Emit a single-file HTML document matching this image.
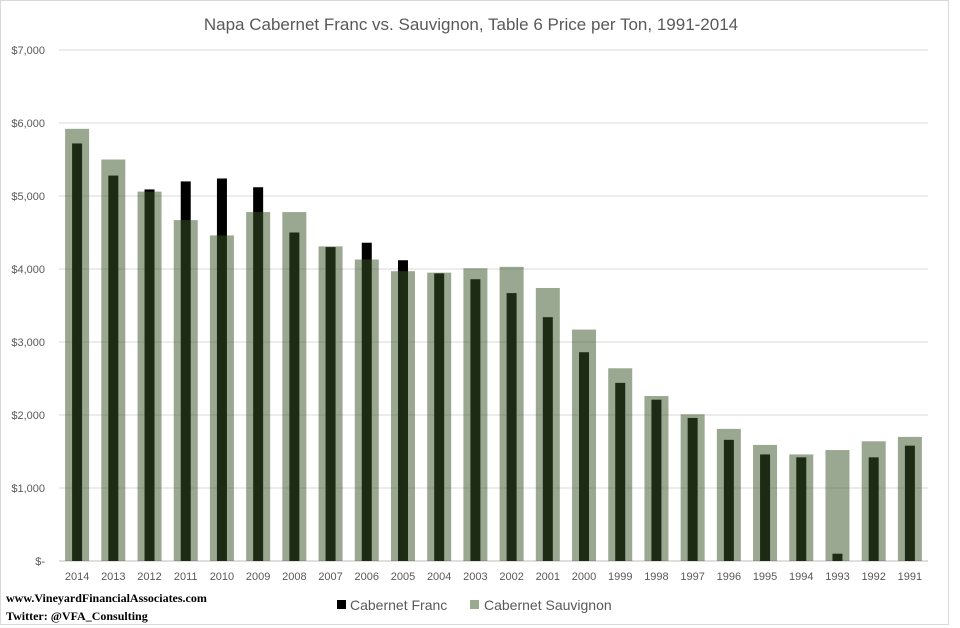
<!DOCTYPE html>
<html><head><meta charset="utf-8"><style>
body{margin:0;background:#fff;width:960px;height:628px;overflow:hidden}
svg{display:block;font-family:"Liberation Sans",sans-serif}
</style></head><body>
<svg id="chart" width="960" height="628">
<rect x="0.5" y="0.5" width="948" height="624" fill="#fff" stroke="#d9d9d9"/>
<text x="471" y="30" text-anchor="middle" font-size="17" fill="#595959">Napa Cabernet Franc vs. Sauvignon, Table 6 Price per Ton, 1991-2014</text>
<g id="grid"></g><g id="bars"></g><g id="xlabels"></g>
<g>
<rect x="337" y="600" width="9" height="9" fill="#000"/>
<text x="350" y="610" font-size="14" fill="#595959">Cabernet Franc</text>
<rect x="470" y="600" width="9" height="9" fill="#9aab90"/>
<text x="484" y="610" font-size="14" fill="#595959">Cabernet Sauvignon</text>
</g>
<text x="6" y="602" font-family="Liberation Serif,serif" font-weight="bold" font-size="12" fill="#000">www.VineyardFinancialAssociates.com</text>
<text x="6" y="620" font-family="Liberation Serif,serif" font-weight="bold" font-size="12" fill="#000">Twitter: @VFA_Consulting</text>
</svg>
<script>
const years=["2014","2013","2012","2011","2010","2009","2008","2007","2006","2005","2004","2003","2002","2001","2000","1999","1998","1997","1996","1995","1994","1993","1992","1991"];
const sauvignon=[5920,5500,5060,4670,4460,4780,4780,4310,4130,3970,3950,4010,4030,3740,3170,2640,2260,2010,1810,1590,1460,1520,1640,1700];
const franc=[5720,5280,5090,5200,5240,5120,4500,4300,4360,4120,3940,3860,3670,3340,2860,2440,2210,1960,1660,1460,1420,100,1420,1580];
const yTicks=[0,1000,2000,3000,4000,5000,6000,7000];
const yTickLabels=["$-","$1,000","$2,000","$3,000","$4,000","$5,000","$6,000","$7,000"];
const NS="http://www.w3.org/2000/svg";
const plotLeft=59,plotRight=928,plotTop=50,plotBottom=561,yMax=7000;
const yScale=v=>plotBottom-(v/yMax)*(plotBottom-plotTop);
const band=(plotRight-plotLeft)/years.length;
const xc=i=>plotLeft+band*(i+0.5);
function mk(t,a,p){const e=document.createElementNS(NS,t);for(const k in a)e.setAttribute(k,a[k]);p.appendChild(e);return e;}
const grid=document.getElementById('grid');
yTicks.forEach((t,i)=>{
  const l=mk('line',{x1:plotLeft,x2:plotRight,y1:yScale(t),y2:yScale(t),stroke:i===0?'#bfbfbf':'#d9d9d9','stroke-width':1},grid);
  
  
  const tx=mk('text',{x:45,y:yScale(t)+4,'text-anchor':'end','font-size':11,fill:'#595959'},grid);
  tx.textContent=yTickLabels[i];
  
  
});
const bars=document.getElementById('bars');
const xl=document.getElementById('xlabels');
years.forEach((yr,i)=>{
  const f=mk('rect',{x:xc(i)-5,y:yScale(franc[i]),width:10,height:plotBottom-yScale(franc[i]),fill:'#000'},bars);
  
  
  const s=mk('rect',{x:xc(i)-12,y:yScale(sauvignon[i]),width:24,height:plotBottom-yScale(sauvignon[i]),fill:'rgba(58,84,39,0.51)'},bars);
  
  
  const t=mk('text',{x:xc(i),y:580,'text-anchor':'middle','font-size':11,fill:'#595959'},xl);
  t.textContent=yr;
  
  
});
</script>
</body></html>
